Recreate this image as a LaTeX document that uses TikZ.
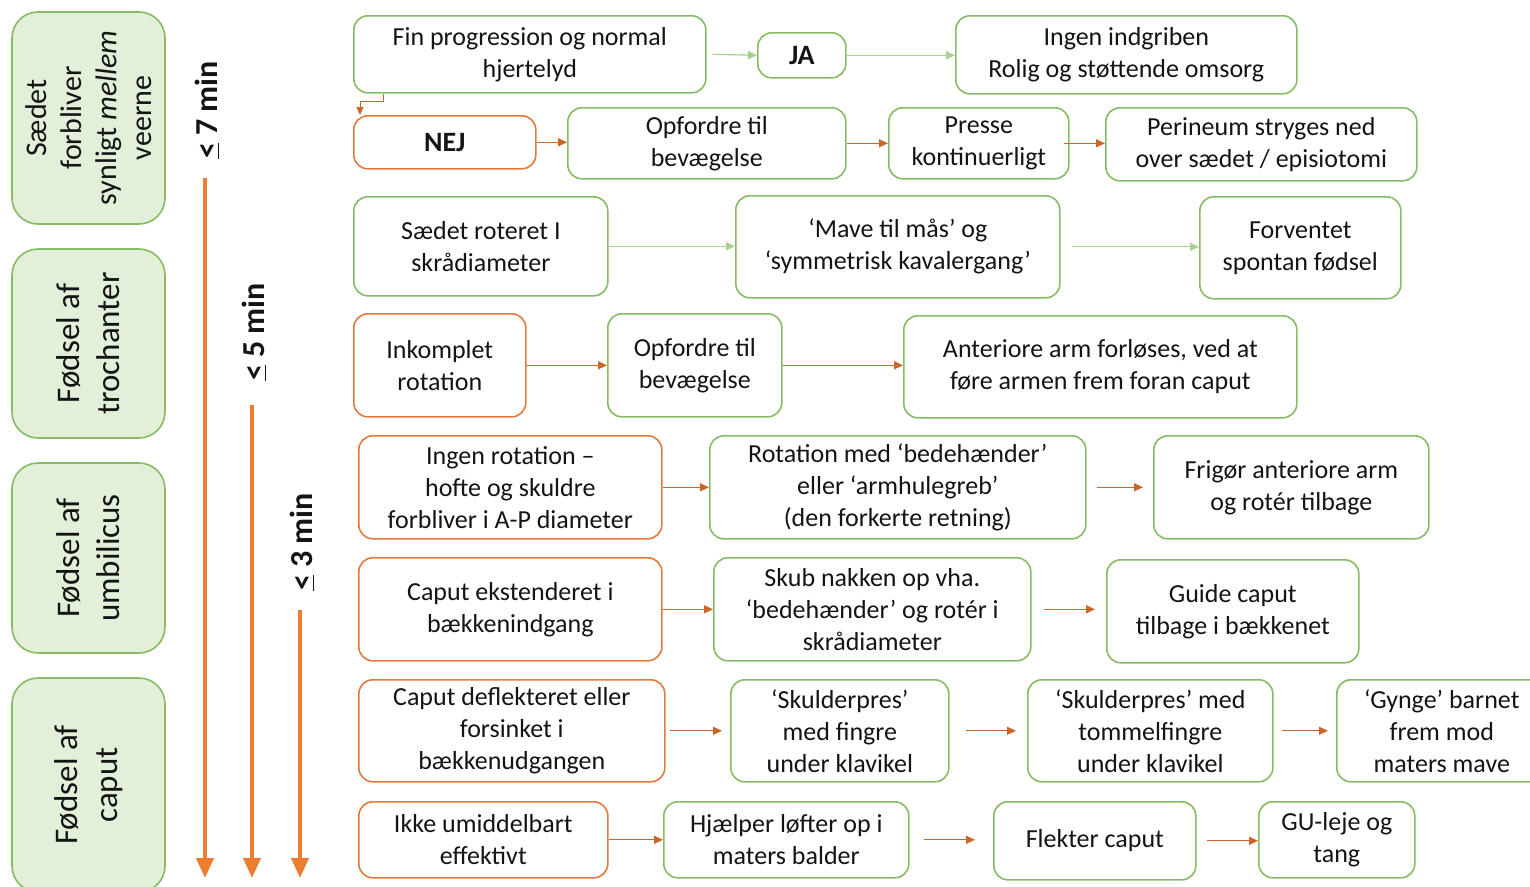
\documentclass[tikz,border=0pt]{standalone}
\usepackage{fontspec}
\setmainfont{Carlito}
\usetikzlibrary{arrows.meta}
\definecolor{gborder}{RGB}{135,188,100}
\definecolor{gfill}{RGB}{226,239,217}
\definecolor{oborder}{RGB}{226,122,62}
\definecolor{garr}{RGB}{169,209,142}
\definecolor{oarr}{RGB}{205,100,40}
\definecolor{tarr}{RGB}{237,125,49}
\definecolor{txt}{RGB}{20,20,20}
\tikzset{
  box/.style={draw, rounded corners=14pt, line width=1.6pt, fill=white, align=center,
    inner sep=0pt, anchor=north west, text=txt, font=\fontsize{26}{32}\selectfont},
  gbox/.style={box, draw=gborder},
  obox/.style={box, draw=oborder},
  garrow/.style={-{Triangle[length=9pt,width=8pt]}, draw=garr, fill=garr, line width=1.2pt},
  oarrow/.style={-{Triangle[length=9pt,width=8pt]}, draw=oarr, fill=oarr, line width=1.3pt},
  side/.style={draw=gborder, fill=gfill, line width=1.6pt, rounded corners=26pt, rotate=90,
    align=center, inner sep=0pt, text=txt, font=\fontsize{33}{40}\selectfont},
  tlabel/.style={rotate=90, text=txt, inner sep=0pt, font=\bfseries\fontsize{32}{38}\selectfont},
  tarrow/.style={-{Triangle[length=20pt,width=17pt]}, draw=tarr, fill=tarr, line width=4pt}
}
\begin{document}
\begin{tikzpicture}[x=1pt,y=1pt]
\useasboundingbox (0,0) rectangle (1530,-886);
\clip (0,0) rectangle (1530,-886);
\fill[white] (0,0) rectangle (1530,-886);

% left phase boxes
\node[side, minimum width=212pt, minimum height=153pt, font=\fontsize{30}{35}\selectfont] (s1) at (88.5,-118) {Sædet\\forbliver\\synligt \textit{mellem}\\veerne};
\node[side, minimum width=189pt, minimum height=153pt] (s2) at (88.5,-343.5) {Fødsel af\\trochanter};
\node[side, minimum width=190pt, minimum height=153pt] (s3) at (88.5,-558) {Fødsel af\\umbilicus};
\node[side, minimum width=214pt, minimum height=153pt] (s4) at (88.5,-785) {Fødsel af\\caput};

% time labels and arrows
\node[tlabel] (t7) at (207,-110) {\underline{<} 7 min};
\node[tlabel] (t5) at (254,-332) {\underline{<} 5 min};
\node[tlabel] (t3) at (302,-542) {\underline{<} 3 min};
\coordinate (e7) at (205,-878);
\coordinate (e5) at (252,-878);
\coordinate (e3) at (300,-878);
\draw[tarrow] (205,-178) -- (e7);
\draw[tarrow] (252,-405) -- (e5);
\draw[tarrow] (300,-610) -- (e3);

% row 1
\node[gbox, minimum width=352pt, minimum height=77pt] (fin) at (353,-15) {Fin progression og normal\\hjertelyd};
\node[gbox, minimum width=88pt, minimum height=45pt, font=\bfseries\fontsize{28}{32}\selectfont] (ja) at (757,-32) {JA};
\node[gbox, minimum width=341pt, minimum height=78pt] (ingen) at (955,-15) {Ingen indgriben\\Rolig og støttende omsorg};
\draw[garrow] (fin.east) ++(6,0) -- (ja.west);
\draw[garrow] (ja.east) -- (ja.east -| ingen.west);

% row 2
\node[obox, minimum width=182pt, minimum height=53pt, font=\bfseries\fontsize{28}{32}\selectfont] (nej) at (353,-115) {NEJ};
\node[gbox, minimum width=278pt, minimum height=71pt] (opf1) at (567,-107) {Opfordre til\\bevægelse};
\node[gbox, minimum width=180pt, minimum height=71pt] (presse) at (888,-107) {Presse\\kontinuerligt};
\node[gbox, minimum width=311pt, minimum height=73pt] (perin) at (1105,-107) {Perineum stryges ned\\over sædet / episiotomi};
\draw[oarr, line width=1pt, -{Triangle[length=8pt,width=7pt]}] ([xshift=30pt]fin.south west) -- ++(0,-8) -| ([xshift=7pt]nej.north west);
\draw[oarrow] (nej.east) -- (nej.east -| opf1.west);
\draw[oarrow] (opf1.east) -- (opf1.east -| presse.west);
\draw[oarrow] ([xshift=-6pt]presse.east) -- (presse.east -| perin.west);

% row 3
\node[gbox, minimum width=254pt, minimum height=99pt] (srot) at (353,-196) {Sædet roteret I\\skrådiameter};
\node[gbox, minimum width=324pt, minimum height=102pt] (mave) at (735,-195) {‘Mave til mås’ og\\‘symmetrisk kavalergang’};
\node[gbox, minimum width=201pt, minimum height=102pt] (forv) at (1199,-196) {Forventet\\spontan fødsel};
\draw[garrow] (srot.east) -- (srot.east -| mave.west);
\draw[garrow, shorten <=11pt] (mave.east) -- (mave.east -| forv.west);

% row 4
\node[obox, minimum width=172pt, minimum height=103pt] (inkom) at (353,-313) {Inkomplet\\rotation};
\node[gbox, minimum width=174pt, minimum height=103pt] (opf2) at (607,-313) {Opfordre til\\bevægelse};
\node[gbox, minimum width=393pt, minimum height=102pt] (anter) at (903,-315) {Anteriore arm forløses, ved at\\føre armen frem foran caput};
\draw[oarrow] (inkom.east) -- (inkom.east -| opf2.west);
\draw[oarrow] (opf2.east) -- (opf2.east -| anter.west);

% row 5
\node[obox, minimum width=303pt, minimum height=103pt] (ingrot) at (358,-435) {Ingen rotation –\\hofte og skuldre\\forbliver i A-P diameter};
\node[gbox, minimum width=376pt, minimum height=103pt] (rotbed) at (709,-435) {Rotation med ‘bedehænder’\\eller ‘armhulegreb’\\(den forkerte retning)};
\node[gbox, minimum width=275pt, minimum height=103pt] (frigor) at (1153,-435) {Frigør anteriore arm\\og rotér tilbage};
\draw[oarrow] (ingrot.east) -- (ingrot.east -| rotbed.west);
\draw[oarrow, shorten <=10pt, shorten >=10pt] (rotbed.east) -- (rotbed.east -| frigor.west);

% row 6
\node[obox, minimum width=303pt, minimum height=103pt] (capext) at (358,-557) {Caput ekstenderet i\\bækkenindgang};
\node[gbox, minimum width=317pt, minimum height=103pt] (skub) at (713,-557) {Skub nakken op vha.\\‘bedehænder’ og rotér i\\skrådiameter};
\node[gbox, minimum width=252pt, minimum height=103pt] (guide) at (1106,-559) {Guide caput\\tilbage i bækkenet};
\draw[oarrow] (capext.east) -- (capext.east -| skub.west);
\draw[oarrow, shorten <=12pt, shorten >=11pt] (skub.east) -- (skub.east -| guide.west);

% row 7
\node[obox, minimum width=306pt, minimum height=102pt] (capdef) at (358,-679) {Caput deflekteret eller\\forsinket i\\bækkenudgangen};
\node[gbox, minimum width=218pt, minimum height=102pt] (skfing) at (730,-679) {‘Skulderpres’\\med fingre\\under klavikel};
\node[gbox, minimum width=245pt, minimum height=102pt] (sktomm) at (1027,-679) {‘Skulderpres’ med\\tommelfingre\\under klavikel};
\node[gbox, minimum width=210pt, minimum height=102pt] (gynge) at (1336,-679) {‘Gynge’ barnet\\frem mod\\maters mave};
\draw[oarrow, shorten <=4pt, shorten >=8pt] (capdef.east) -- (capdef.east -| skfing.west);
\draw[oarrow, shorten <=16pt, shorten >=11pt] (skfing.east) -- (skfing.east -| sktomm.west);
\draw[oarrow, shorten <=8pt, shorten >=8pt] (sktomm.east) -- (sktomm.east -| gynge.west);

% row 8
\node[obox, minimum width=249pt, minimum height=76pt] (ikke) at (358,-801) {Ikke umiddelbart\\effektivt};
\node[gbox, minimum width=245pt, minimum height=76pt] (hjael) at (663,-801) {Hjælper løfter op i\\maters balder};
\node[gbox, minimum width=202pt, minimum height=78pt] (flekt) at (993,-801) {Flekter caput};
\node[gbox, minimum width=156pt, minimum height=76pt] (gu) at (1258,-801) {GU-leje og\\tang};
\draw[oarrow] (ikke.east) -- (ikke.east -| hjael.west);
\draw[oarrow, shorten <=14pt, shorten >=18pt] (hjael.east) -- (hjael.east -| flekt.west);
\draw[oarrow, shorten <=10pt] (flekt.east) -- (flekt.east -| gu.west);
\end{tikzpicture}
\end{document}
